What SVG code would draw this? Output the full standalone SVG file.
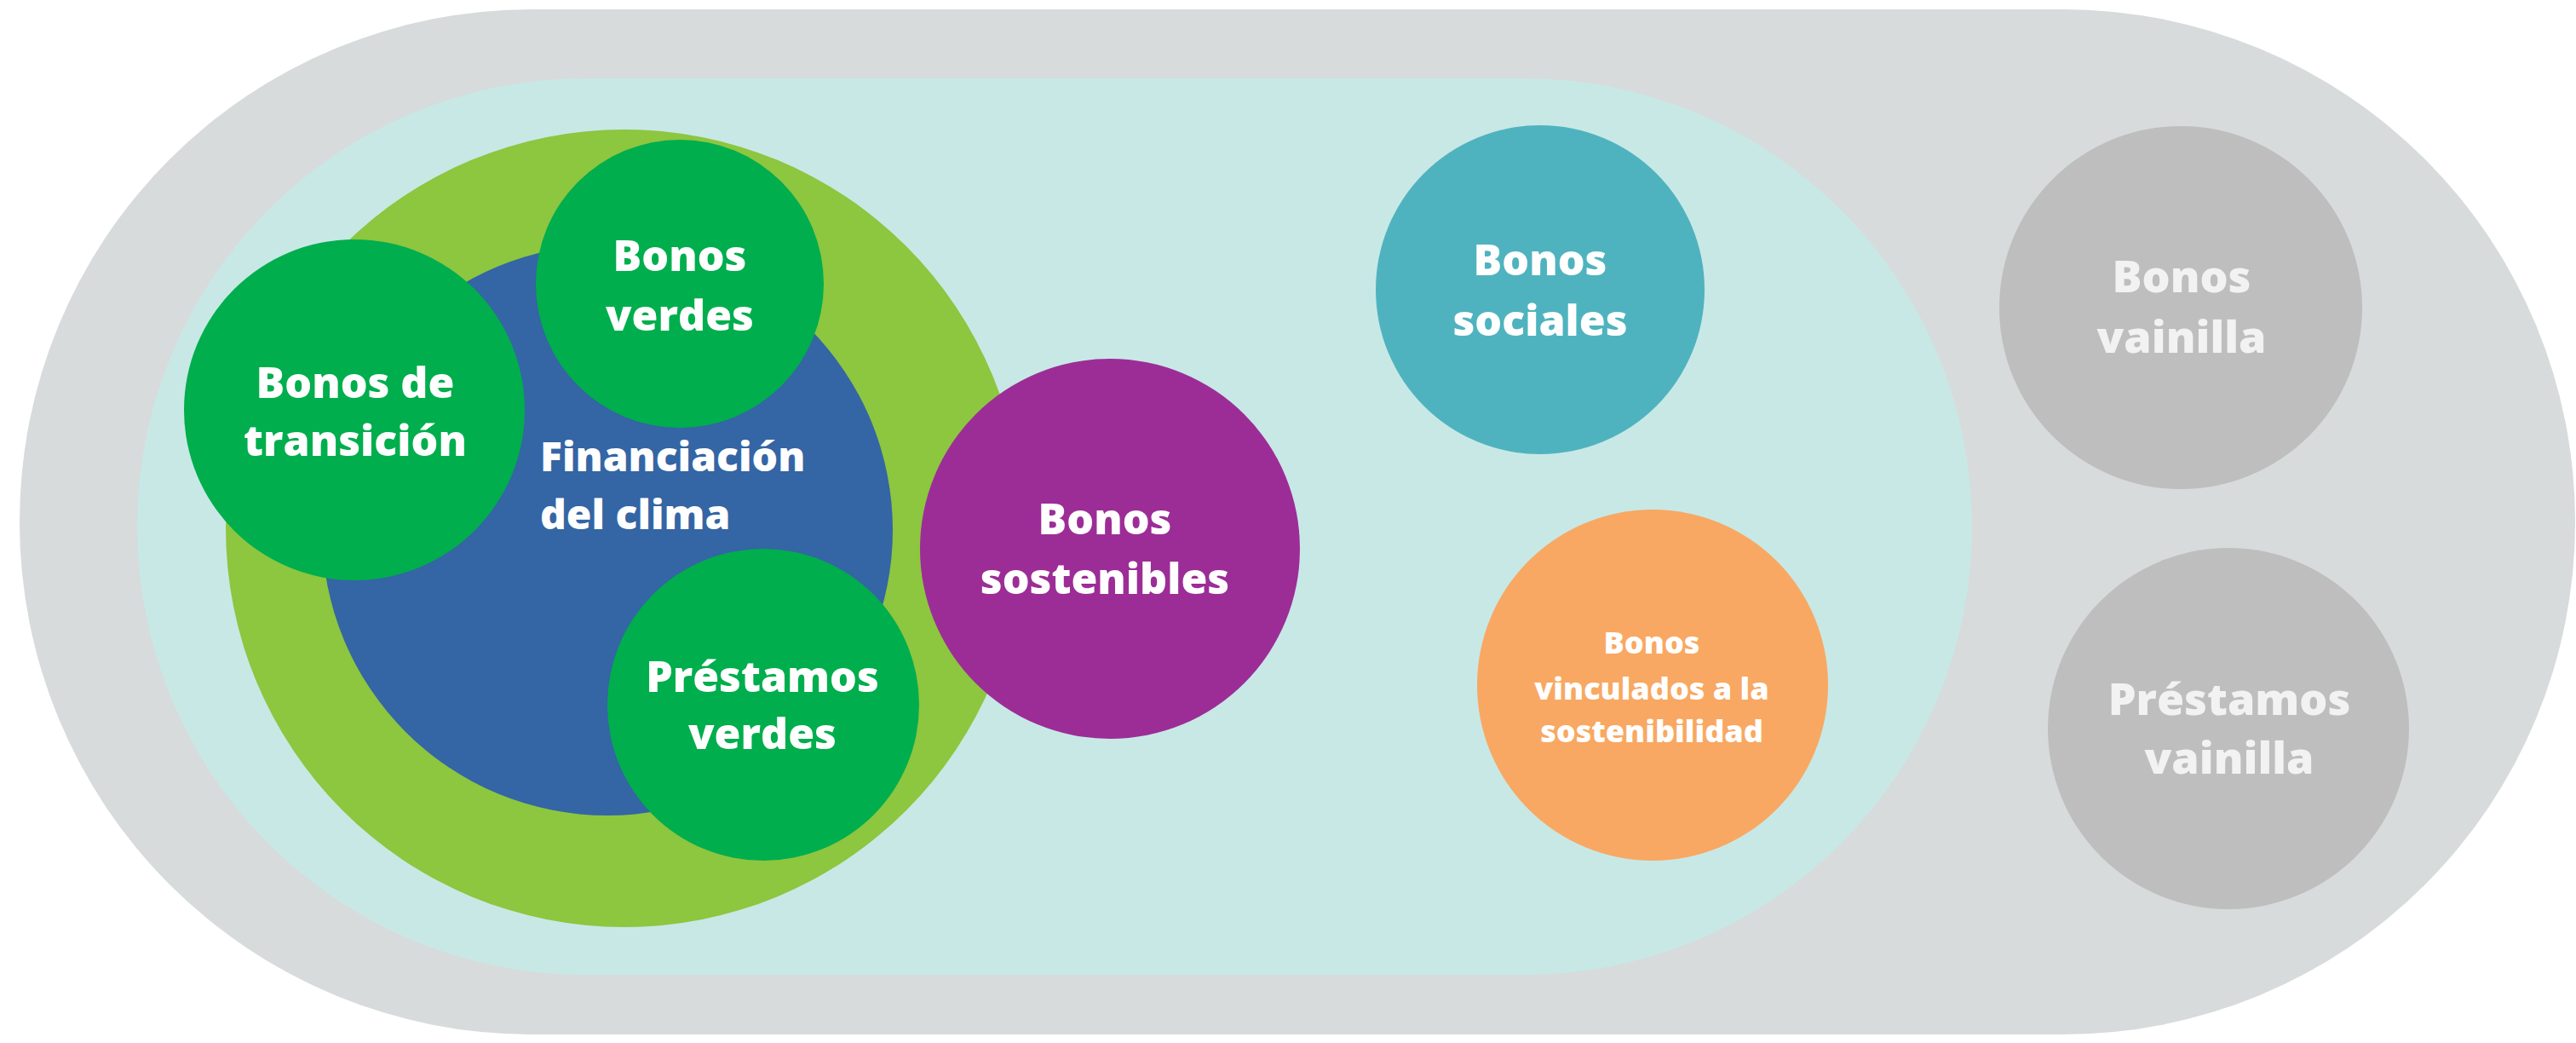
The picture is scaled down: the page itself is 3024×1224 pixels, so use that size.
<svg xmlns="http://www.w3.org/2000/svg" width="3024" height="1224" viewBox="0 0 3024 1224">
<style>
.t{font-family:"Open Sans","Noto Sans","Liberation Sans",sans-serif;font-weight:800;fill:#ffffff;text-anchor:middle;font-size:50px}
.s{font-size:36px}
.v{fill:#f2f2f2;font-size:52px}
.l{text-anchor:start;font-size:48px}
</style>
<rect width="3024" height="1224" fill="#ffffff"/>
<g id="outer"><rect x="23" y="11" width="3000" height="1203" rx="601" ry="601" fill="#d7dbdb"/></g>
<g id="sustainable-area"><rect x="161" y="92" width="2154" height="1052" rx="526" ry="526" fill="#c8e8e6"/></g>
<g id="green-ring"><circle cx="733" cy="620" r="468" fill="#8dc63f"/></g>
<g id="financiacion-clima">
<circle cx="713" cy="622" r="335" fill="#3465a4"/>
<text class="t l" x="634" y="553">Financiación</text>
<text class="t l" x="634" y="621">del clima</text>
</g>
<g id="bonos-transicion">
<circle cx="416" cy="481" r="200" fill="#00ae4d"/>
<text class="t" x="417" y="467">Bonos de</text>
<text class="t" x="417" y="535">transición</text>
</g>
<g id="bonos-verdes">
<circle cx="798" cy="333" r="169" fill="#00ae4d"/>
<text class="t" x="798" y="318">Bonos</text>
<text class="t" x="798" y="388">verdes</text>
</g>
<g id="prestamos-verdes">
<circle cx="896" cy="827" r="183" fill="#00ae4d"/>
<text class="t" x="895" y="812">Préstamos</text>
<text class="t" x="895" y="879">verdes</text>
</g>
<g id="bonos-sostenibles">
<circle cx="1303" cy="644" r="223" fill="#9c2d97"/>
<text class="t" x="1297" y="627">Bonos</text>
<text class="t" x="1297" y="697">sostenibles</text>
</g>
<g id="bonos-sociales">
<circle cx="1808" cy="340" r="193" fill="#4fb3bf"/>
<text class="t" x="1808" y="323">Bonos</text>
<text class="t" x="1808" y="394">sociales</text>
</g>
<g id="bonos-vinculados">
<circle cx="1940" cy="804" r="206" fill="#f8a862"/>
<text class="t s" x="1939" y="767">Bonos</text>
<text class="t s" x="1939" y="821">vinculados a la</text>
<text class="t s" x="1939" y="871">sostenibilidad</text>
</g>
<g id="bonos-vainilla">
<circle cx="2560" cy="361" r="213" fill="#bebebe"/>
<text class="t v" x="2561" y="343">Bonos</text>
<text class="t v" x="2561" y="414">vainilla</text>
</g>
<g id="prestamos-vainilla">
<circle cx="2616" cy="855" r="212" fill="#bebebe"/>
<text class="t v" x="2617" y="839">Préstamos</text>
<text class="t v" x="2617" y="908">vainilla</text>
</g>
<g id="connectors"/>
</svg>
